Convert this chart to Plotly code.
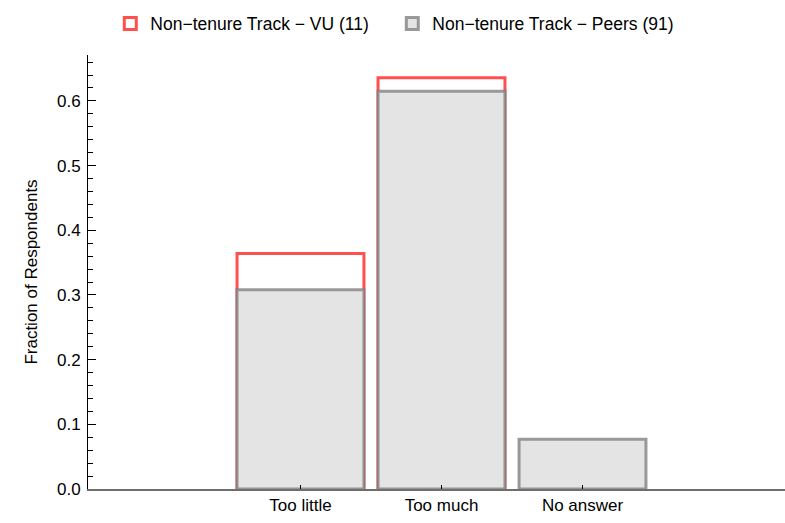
import plotly.graph_objects as go

categories = ["Too little", "Too much", "No answer"]
vu_values = [0.364, 0.636, 0.0]
peers_values = [0.308, 0.615, 0.077]
vu_name = "Non\u2212tenure Track \u2212 VU (11)"
peers_name = "Non\u2212tenure Track \u2212 Peers (91)"
y_tick_vals = [0.0, 0.1, 0.2, 0.3, 0.4, 0.5, 0.6]
y_tick_text = ["0.0", "0.1", "0.2", "0.3", "0.4", "0.5", "0.6"]

FONT = "Liberation Sans, Arial, sans-serif"

fig = go.Figure()
fig.add_trace(go.Bar(
    x=categories, y=vu_values, name=vu_name, width=0.9,
    marker=dict(color="rgba(255,255,255,0)",
                line=dict(color="rgb(255,80,80)", width=3)),
))
fig.add_trace(go.Bar(
    x=categories, y=peers_values, name=peers_name, width=0.9,
    marker=dict(color="rgb(228,228,228)",
                line=dict(color="rgba(125,125,125,0.77)", width=3)),
))

fig.update_layout(
    width=785, height=523,
    barmode="overlay",
    plot_bgcolor="white", paper_bgcolor="white",
    margin=dict(l=88, r=0, t=55, b=34),
    font=dict(family=FONT, size=17, color="black"),
    showlegend=True,
    legend=dict(orientation="h", x=0.032, xanchor="left", y=1.114, yanchor="top",
                yref="paper", font=dict(size=17.5), itemclick=False,
                entrywidth=237, traceorder="normal"),
    xaxis=dict(
        range=[-1.507, 3.436], showline=True, linecolor="rgb(110,110,110)", linewidth=1.5,
        ticks="inside", ticklen=4, tickcolor="black", tickwidth=1,
        showgrid=False, zeroline=False, tickfont=dict(size=17), automargin=False,
    ),
    yaxis=dict(
        range=[0, 0.671], showline=True, linecolor="black", linewidth=1,
        ticks="inside", ticklen=8, tickcolor="black",
        tickvals=y_tick_vals, ticktext=y_tick_text, ticklabelstandoff=3,
        minor=dict(ticks="inside", ticklen=5, dtick=0.02, tick0=0, tickcolor="black", showgrid=False),
        showgrid=False, zeroline=False, tickfont=dict(size=17), automargin=False,
        title=dict(text="Fraction of Respondents", font=dict(size=17), standoff=15),
    ),
)

fig.write_html("out.html", config={"displayModeBar": False},
               post_script="document.body.style.margin='0';")
